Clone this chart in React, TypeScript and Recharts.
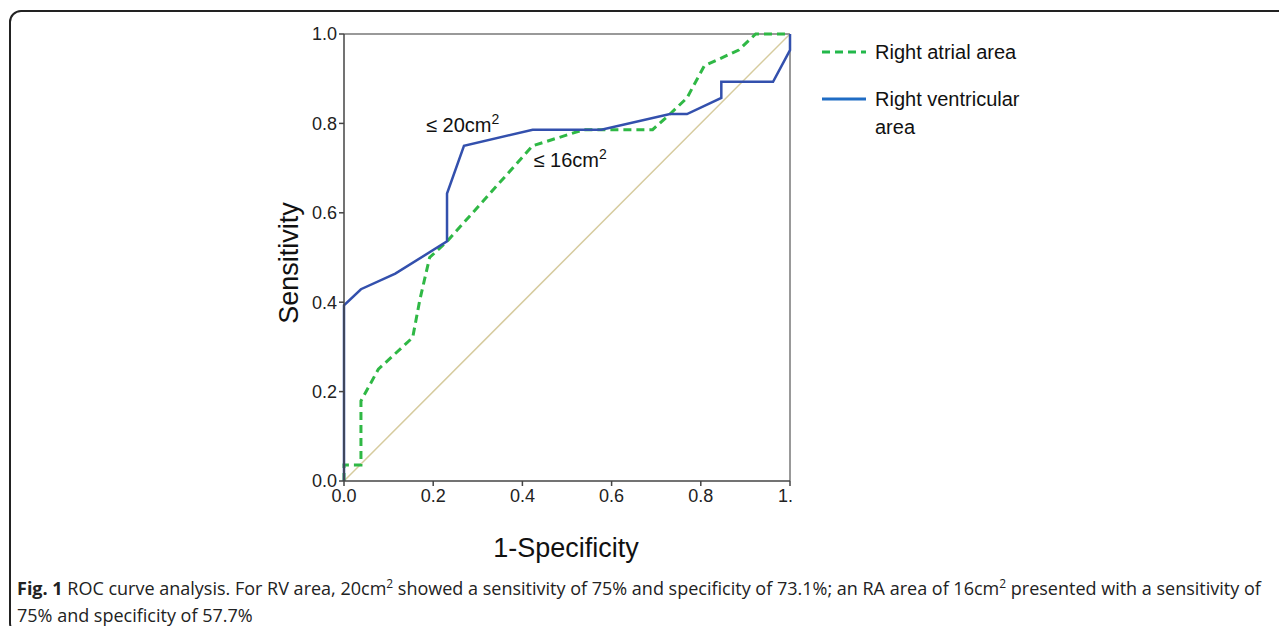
import React from "react";
import {
  LineChart,
  Line,
  XAxis,
  YAxis,
  ReferenceLine,
  ReferenceDot,
} from "recharts";

// ROC points (1-specificity, sensitivity)
const rvFpr = [0, 0, 0.038, 0.115, 0.231, 0.231, 0.269, 0.423, 0.577, 0.731, 0.769, 0.846, 0.846, 0.962, 1, 1];
const rvTpr = [0, 0.393, 0.429, 0.464, 0.536, 0.643, 0.75, 0.786, 0.786, 0.821, 0.821, 0.857, 0.893, 0.893, 0.964, 1];

const raFpr = [0, 0, 0.038, 0.038, 0.077, 0.154, 0.17, 0.192, 0.231, 0.423, 0.538, 0.692, 0.731, 0.769, 0.808, 0.885, 0.923, 1];
const raTpr = [0, 0.036, 0.036, 0.179, 0.25, 0.321, 0.405, 0.5, 0.536, 0.75, 0.786, 0.786, 0.821, 0.857, 0.929, 0.964, 1, 1];

const refFpr = [0, 1];
const refTpr = [0, 1];

const axisTicks = [0, 0.2, 0.4, 0.6, 0.8, 1];

const rvData = rvFpr.map((x, i) => ({ x, y: rvTpr[i] }));
const raData = raFpr.map((x, i) => ({ x, y: raTpr[i] }));
const refData = refFpr.map((x, i) => ({ x, y: refTpr[i] }));

const FONT = "'Liberation Sans', Arial, sans-serif";
const BLUE = "#3350ad";
const GREEN = "#2fb845";

const XTick = (props: any) => {
  const { x, y, payload } = props;
  const v = payload.value;
  const txt = v === 1 ? "1." : v.toFixed(1);
  return (
    <text
      x={v === 1 ? x + 3 : x}
      y={y}
      dy="0.75em"
      textAnchor={v === 1 ? "end" : "middle"}
      fontSize={18}
      fontFamily={FONT}
      fill="#222"
    >
      {txt}
    </text>
  );
};

const cutLabel = (main: string) => (props: any) => {
  const { viewBox } = props;
  return (
    <text x={viewBox.x} y={viewBox.y} fontSize={20} fontFamily={FONT} fill="#111">
      {main}
      <tspan fontSize={14} dy={-8}>
        2
      </tspan>
    </text>
  );
};

const sup = { fontSize: 12, position: "relative" as const, top: -7, lineHeight: 0 };

export default function App() {
  return (
    <div
      style={{
        position: "relative",
        width: 1287,
        height: 634,
        margin: -8,
        overflow: "hidden",
        background: "#fff",
      }}
    >
      <div
        style={{
          position: "absolute",
          left: 9,
          top: 10,
          width: 1310,
          height: 621,
          border: "2px solid #222",
          borderRadius: 12,
        }}
      />
      <div style={{ position: "absolute", left: 0, top: 0 }}>
        <LineChart
          width={1287}
          height={634}
          margin={{ top: 34, right: 497, bottom: 123, left: 284 }}
        >
          <XAxis
            type="number"
            dataKey="x"
            domain={[0, 1]}
            ticks={axisTicks}
            height={30}
            tickSize={5}
            tick={<XTick />}
            stroke="#444"
            strokeWidth={1.5}
            allowDuplicatedCategory={false}
          />
          <YAxis
            type="number"
            dataKey="y"
            domain={[0, 1]}
            ticks={axisTicks}
            width={60}
            tickSize={5}
            tickFormatter={(v: number) => v.toFixed(1)}
            tick={{ fontSize: 18, fontFamily: FONT, fill: "#222" }}
            stroke="#444"
            strokeWidth={1.5}
          />
          <ReferenceLine y={1} stroke="#777" strokeWidth={1.5} />
          <ReferenceLine x={1} stroke="#777" strokeWidth={1.5} />
          <Line
            data={refData}
            dataKey="y"
            stroke="#d6cb9e"
            strokeWidth={1.5}
            dot={false}
            isAnimationActive={false}
          />
          <Line
            data={raData}
            dataKey="y"
            stroke={GREEN}
            strokeWidth={3}
            strokeDasharray="8 5"
            dot={false}
            isAnimationActive={false}
          />
          <Line
            data={rvData}
            dataKey="y"
            stroke={BLUE}
            strokeWidth={2.5}
            dot={false}
            isAnimationActive={false}
          />
          <ReferenceDot x={0.184} y={0.781} r={0} stroke="none" label={cutLabel("≤ 20cm")} />
          <ReferenceDot x={0.425} y={0.703} r={0} stroke="none" label={cutLabel("≤ 16cm")} />
        </LineChart>
      </div>

      {/* axis titles */}
      <div
        style={{
          position: "absolute",
          left: 289,
          top: 263,
          transform: "translate(-50%, -50%) rotate(-90deg)",
          fontFamily: FONT,
          fontSize: 27,
          color: "#111",
          whiteSpace: "nowrap",
        }}
      >
        Sensitivity
      </div>
      <div
        style={{
          position: "absolute",
          left: 566,
          top: 548,
          transform: "translate(-50%, -50%)",
          fontFamily: FONT,
          fontSize: 27,
          color: "#111",
          whiteSpace: "nowrap",
        }}
      >
        1-Specificity
      </div>

      {/* legend */}
      <svg
        style={{ position: "absolute", left: 815, top: 30 }}
        width={260}
        height={120}
      >
        <line x1={7} x2={51} y1={22} y2={22} stroke="#22b84a" strokeWidth={3} strokeDasharray="8 5" />
        <text x={60} y={22} dy="0.36em" fontSize={20} fontFamily={FONT} fill="#111">
          Right atrial area
        </text>
        <line x1={7} x2={51} y1={69} y2={69} stroke="#1f6cc4" strokeWidth={3} />
        <text x={60} y={69} dy="0.36em" fontSize={20} fontFamily={FONT} fill="#111">
          Right ventricular
        </text>
        <text x={60} y={97} dy="0.36em" fontSize={20} fontFamily={FONT} fill="#111">
          area
        </text>
      </svg>

      {/* caption */}
      <div
        style={{
          position: "absolute",
          left: 17,
          top: 575,
          fontFamily: "'Open Sans', sans-serif",
          fontSize: 18,
          lineHeight: "27px",
          color: "#222",
          whiteSpace: "nowrap",
        }}
      >
        <div>
          <b>Fig. 1</b> ROC curve analysis. For RV area, 20cm<span style={sup}>2</span> showed a
          sensitivity of 75% and specificity of 73.1%; an RA area of 16cm
          <span style={sup}>2</span> presented with a sensitivity of
        </div>
        <div>75% and specificity of 57.7%</div>
      </div>
    </div>
  );
}
